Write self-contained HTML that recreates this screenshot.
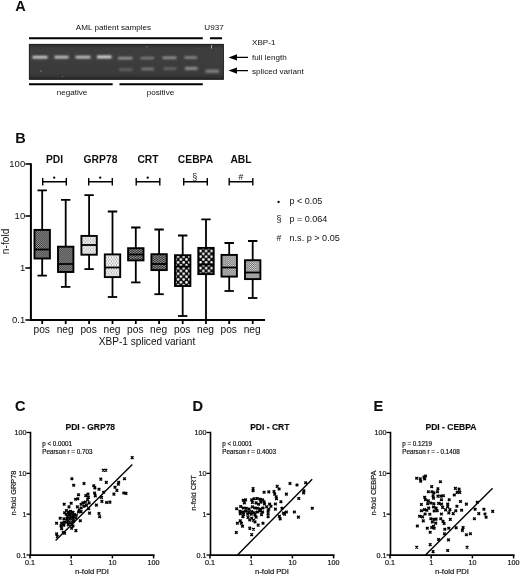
<!DOCTYPE html>
<html><head><meta charset="utf-8"><title>Figure</title>
<style>
html,body{margin:0;padding:0;background:#fff;}
body{width:520px;height:574px;overflow:hidden;font-family:"Liberation Sans",sans-serif;}
svg{display:block;font-family:"Liberation Sans",sans-serif;fill:#111;}
</style></head><body>
<svg width="520" height="574" viewBox="0 0 520 574">
<defs>
<pattern id="pPDI" width="1.9" height="1.9" patternUnits="userSpaceOnUse"><rect width="1.9" height="1.9" fill="#1c1c1c"/><rect x="0.05" y="0.05" width="0.9" height="0.9" fill="#c4c4c4"/><rect x="1" y="1" width="0.9" height="0.9" fill="#c4c4c4"/></pattern>
<pattern id="pGRP" width="2.6" height="3.8" patternUnits="userSpaceOnUse"><rect width="2.6" height="3.8" fill="#fdfdfd"/><rect x="0.3" y="0.5" width="1" height="1" fill="#555"/><rect x="1.6" y="2.4" width="1" height="1" fill="#555"/></pattern>
<pattern id="pCRT" width="1.7" height="1.7" patternUnits="userSpaceOnUse" patternTransform="rotate(-35)"><rect width="1.7" height="1.7" fill="#a8a8a8"/><rect x="0" y="0" width="1.7" height="0.95" fill="#262626"/></pattern>
<pattern id="pCEB" width="5.6" height="5.7" patternUnits="userSpaceOnUse" x="0.3" y="1.7"><rect width="5.6" height="5.7" fill="#0a0a0a"/><circle cx="1.4" cy="1.4" r="1.3" fill="#fff"/><circle cx="4.2" cy="4.25" r="1.3" fill="#fff"/></pattern>
<pattern id="pABL" width="2.2" height="1.9" patternUnits="userSpaceOnUse"><rect width="2.2" height="1.9" fill="#ececec"/><rect x="0" y="0" width="1.2" height="0.85" fill="#4c4c4c"/><rect x="1.1" y="0.95" width="1.2" height="0.85" fill="#4c4c4c"/></pattern>
<filter id="gb" x="-10%" y="-50%" width="120%" height="200%"><feGaussianBlur stdDeviation="1.1 0.8"/></filter>
<filter id="soft2"><feGaussianBlur stdDeviation="0.22"/></filter>
<filter id="soft"><feGaussianBlur stdDeviation="0.35"/></filter>
<linearGradient id="gelg" x1="0" y1="0" x2="0" y2="1"><stop offset="0" stop-color="#2a2a2a"/><stop offset="0.12" stop-color="#3e3e3e"/><stop offset="0.85" stop-color="#3a3a3a"/><stop offset="1" stop-color="#262626"/></linearGradient>
</defs>
<rect width="520" height="574" fill="#fff"/>
<g filter="url(#soft)">
<!-- Panel A -->
<text x="15.2" y="10.6" font-size="14.5" font-weight="bold">A</text>
<text x="113.5" y="30.3" font-size="8.1" text-anchor="middle">AML patient samples</text>
<text x="214" y="30.3" font-size="8.1" text-anchor="middle">U937</text>
<path d="M29 38.2H202.8M210 38.2H222" stroke="#000" stroke-width="2"/>
<rect x="29" y="44" width="194.8" height="35.6" fill="url(#gelg)"/>
<rect x="29.3" y="44.3" width="194.2" height="35" fill="none" stroke="#1e1e1e" stroke-width="0.8"/>
<g filter="url(#gb)">
<rect x="32.5" y="55.9" width="15" height="2.6" fill="#d8d8d8"/>
<rect x="54.5" y="55.9" width="14" height="2.5" fill="#d0d0d0"/>
<rect x="75.5" y="55.9" width="15" height="2.5" fill="#d0d0d0"/>
<rect x="97" y="55.6" width="14.5" height="2.7" fill="#e6e6e6"/>
<rect x="118" y="57.1" width="14.5" height="2.2" fill="#a4a4a4"/>
<rect x="140.5" y="57.1" width="13.5" height="2" fill="#8c8c8c"/>
<rect x="162.5" y="56.7" width="14" height="2.2" fill="#a2a2a2"/>
<rect x="184.5" y="56.5" width="12.5" height="2.1" fill="#9c9c9c"/>
<rect x="119" y="68.4" width="13.5" height="2.4" fill="#686868"/>
<rect x="141.5" y="67.8" width="12.5" height="2.4" fill="#808080"/>
<rect x="163.5" y="67.6" width="13" height="2.2" fill="#707070"/>
<rect x="185" y="67.1" width="12.5" height="2.7" fill="#989898"/>
<rect x="205.5" y="69.6" width="13.5" height="3.2" fill="#828282"/>
</g>
<circle cx="41" cy="71" r="0.6" fill="#ccc"/><circle cx="62.5" cy="76.5" r="0.5" fill="#888"/><circle cx="146.8" cy="46.8" r="0.5" fill="#bbb"/><rect x="211" y="45" width="1" height="3.5" fill="#aaa"/>
<path d="M29 84.3H112.7M119.5 84.3H202.8" stroke="#000" stroke-width="2"/>
<text x="72" y="95.2" font-size="8.1" text-anchor="middle">negative</text>
<text x="160.5" y="95.2" font-size="8.1" text-anchor="middle">positive</text>
<text x="252" y="45.2" font-size="8.1">XBP-1</text>
<text x="252" y="59.7" font-size="8.1">full length</text>
<text x="252" y="73.7" font-size="8.1">spliced variant</text>
<path d="M248 57.4H236M248 70.6H236" stroke="#000" stroke-width="1.2"/>
<path d="M228.5 57.4l8.5 -3.1v6.2zM228.5 70.6l8.5 -3.1v6.2z" fill="#000"/>
<!-- Panel B -->
<text x="15.2" y="143" font-size="14.5" font-weight="bold">B</text>
<path d="M30.9 163.2V320H265" stroke="#000" stroke-width="2" fill="none"/>
<path d="M25.4 164H30.9" stroke="#000" stroke-width="1.6"/>
<text x="25.2" y="167.4" font-size="9.5" text-anchor="end">100</text>
<path d="M25.4 216H30.9" stroke="#000" stroke-width="1.6"/>
<text x="25.2" y="219.4" font-size="9.5" text-anchor="end">10</text>
<path d="M25.4 268H30.9" stroke="#000" stroke-width="1.6"/>
<text x="25.2" y="271.4" font-size="9.5" text-anchor="end">1</text>
<path d="M25.4 320H30.9" stroke="#000" stroke-width="1.6"/>
<text x="25.2" y="323.4" font-size="9.5" text-anchor="end">0.1</text>
<text transform="translate(9.2 241.4) rotate(-90)" font-size="10.2" text-anchor="middle">n-fold</text>
<text x="54.5" y="163.3" font-size="10.3" font-weight="bold" text-anchor="middle">PDI</text>
<path d="M42.7 181.7h23.6M42.7 178v7.4M66.3 178v7.4" stroke="#000" stroke-width="1.4" fill="none"/>
<circle cx="54.2" cy="177.7" r="1.15" fill="#000"/>
<text x="100.5" y="163.3" font-size="10.3" font-weight="bold" text-anchor="middle">GRP78</text>
<path d="M88.7 181.7h23.6M88.7 178v7.4M112.3 178v7.4" stroke="#000" stroke-width="1.4" fill="none"/>
<circle cx="100.2" cy="177.7" r="1.15" fill="#000"/>
<text x="148" y="163.3" font-size="10.3" font-weight="bold" text-anchor="middle">CRT</text>
<path d="M136.2 181.7h23.6M136.2 178v7.4M159.8 178v7.4" stroke="#000" stroke-width="1.4" fill="none"/>
<circle cx="147.7" cy="177.7" r="1.15" fill="#000"/>
<text x="195.5" y="163.3" font-size="10.3" font-weight="bold" text-anchor="middle">CEBPA</text>
<path d="M183.7 181.7h23.6M183.7 178v7.4M207.3 178v7.4" stroke="#000" stroke-width="1.4" fill="none"/>
<text x="194.8" y="179.6" font-size="9" text-anchor="middle">§</text>
<text x="241" y="163.3" font-size="10.3" font-weight="bold" text-anchor="middle">ABL</text>
<path d="M229.2 181.7h23.6M229.2 178v7.4M252.8 178v7.4" stroke="#000" stroke-width="1.4" fill="none"/>
<text x="241" y="179.6" font-size="8.6" text-anchor="middle">#</text>
</g><g filter="url(#soft2)">
<path d="M42.2 190.4V275.6M37.5 190.4h9.4" stroke="#000" stroke-width="1.8" fill="none"/>
<path d="M37.5 275.6h9.4" stroke="#000" stroke-width="1.8"/>
<rect x="34.5" y="229.9" width="15.4" height="28.6" fill="url(#pPDI)" stroke="#000" stroke-width="1.9"/>
<path d="M34.5 249.5h15.4" stroke="#000" stroke-width="1.8"/>
<path d="M42.2 320V324" stroke="#000" stroke-width="1.8"/>
<text x="41.7" y="332.6" font-size="10.2" text-anchor="middle">pos</text>
<path d="M65.7 199.8V286.9M61.0 199.8h9.4" stroke="#000" stroke-width="1.8" fill="none"/>
<path d="M61.0 286.9h9.4" stroke="#000" stroke-width="1.8"/>
<rect x="58.0" y="246.7" width="15.4" height="25.3" fill="url(#pPDI)" stroke="#000" stroke-width="1.9"/>
<path d="M58.0 264h15.4" stroke="#000" stroke-width="1.8"/>
<path d="M65.7 320V324" stroke="#000" stroke-width="1.8"/>
<text x="65.2" y="332.6" font-size="10.2" text-anchor="middle">neg</text>
<path d="M89.1 195.2V269.1M84.4 195.2h9.4" stroke="#000" stroke-width="1.8" fill="none"/>
<path d="M84.4 269.1h9.4" stroke="#000" stroke-width="1.8"/>
<rect x="81.4" y="235.9" width="15.4" height="18.8" fill="url(#pGRP)" stroke="#000" stroke-width="1.9"/>
<path d="M81.4 245h15.4" stroke="#000" stroke-width="1.8"/>
<path d="M89.1 320V324" stroke="#000" stroke-width="1.8"/>
<text x="88.6" y="332.6" font-size="10.2" text-anchor="middle">pos</text>
<path d="M112.5 211.5V297M107.8 211.5h9.4" stroke="#000" stroke-width="1.8" fill="none"/>
<path d="M107.8 297h9.4" stroke="#000" stroke-width="1.8"/>
<rect x="104.8" y="254.4" width="15.4" height="22.7" fill="url(#pGRP)" stroke="#000" stroke-width="1.9"/>
<path d="M104.8 267.5h15.4" stroke="#000" stroke-width="1.8"/>
<path d="M112.5 320V324" stroke="#000" stroke-width="1.8"/>
<text x="112.0" y="332.6" font-size="10.2" text-anchor="middle">neg</text>
<path d="M135.8 227.5V282.4M131.1 227.5h9.4" stroke="#000" stroke-width="1.8" fill="none"/>
<path d="M131.1 282.4h9.4" stroke="#000" stroke-width="1.8"/>
<rect x="128.1" y="248.2" width="15.4" height="12.2" fill="url(#pCRT)" stroke="#000" stroke-width="1.9"/>
<path d="M128.1 254.5h15.4" stroke="#000" stroke-width="1.8"/>
<path d="M135.8 320V324" stroke="#000" stroke-width="1.8"/>
<text x="135.3" y="332.6" font-size="10.2" text-anchor="middle">pos</text>
<path d="M159.1 229.5V294.2M154.4 229.5h9.4" stroke="#000" stroke-width="1.8" fill="none"/>
<path d="M154.4 294.2h9.4" stroke="#000" stroke-width="1.8"/>
<rect x="151.4" y="254.2" width="15.4" height="15.9" fill="url(#pCRT)" stroke="#000" stroke-width="1.9"/>
<path d="M151.4 264h15.4" stroke="#000" stroke-width="1.8"/>
<path d="M159.1 320V324" stroke="#000" stroke-width="1.8"/>
<text x="158.6" y="332.6" font-size="10.2" text-anchor="middle">neg</text>
<path d="M182.7 235.5V316M178.0 235.5h9.4" stroke="#000" stroke-width="1.8" fill="none"/>
<path d="M178.0 316h9.4" stroke="#000" stroke-width="1.8"/>
<rect x="175.0" y="255.2" width="15.4" height="30.8" fill="url(#pCEB)" stroke="#000" stroke-width="1.9"/>
<path d="M175.0 266.6h15.4" stroke="#000" stroke-width="1.8"/>
<path d="M182.7 320V324" stroke="#000" stroke-width="1.8"/>
<text x="182.2" y="332.6" font-size="10.2" text-anchor="middle">pos</text>
<path d="M206 219.3V320M201.3 219.3h9.4" stroke="#000" stroke-width="1.8" fill="none"/>
<rect x="198.3" y="247.9" width="15.4" height="26.2" fill="url(#pCEB)" stroke="#000" stroke-width="1.9"/>
<path d="M198.3 264.5h15.4" stroke="#000" stroke-width="1.8"/>
<path d="M206 320V324" stroke="#000" stroke-width="1.8"/>
<text x="205.5" y="332.6" font-size="10.2" text-anchor="middle">neg</text>
<path d="M229.2 243V291M224.5 243h9.4" stroke="#000" stroke-width="1.8" fill="none"/>
<path d="M224.5 291h9.4" stroke="#000" stroke-width="1.8"/>
<rect x="221.5" y="254.9" width="15.4" height="21.7" fill="url(#pABL)" stroke="#000" stroke-width="1.9"/>
<path d="M221.5 267.5h15.4" stroke="#000" stroke-width="1.8"/>
<path d="M229.2 320V324" stroke="#000" stroke-width="1.8"/>
<text x="228.7" y="332.6" font-size="10.2" text-anchor="middle">pos</text>
<path d="M252.7 241V298M248.0 241h9.4" stroke="#000" stroke-width="1.8" fill="none"/>
<path d="M248.0 298h9.4" stroke="#000" stroke-width="1.8"/>
<rect x="245.0" y="260.2" width="15.4" height="18.9" fill="url(#pABL)" stroke="#000" stroke-width="1.9"/>
<path d="M245.0 272.5h15.4" stroke="#000" stroke-width="1.8"/>
<path d="M252.7 320V324" stroke="#000" stroke-width="1.8"/>
<text x="252.2" y="332.6" font-size="10.2" text-anchor="middle">neg</text>
</g><g filter="url(#soft)">
<text x="147" y="345.3" font-size="10.1" text-anchor="middle">XBP-1 spliced variant</text>
<circle cx="278.6" cy="202" r="1.15" fill="#000"/>
<text x="279" y="222.3" font-size="9" text-anchor="middle">§</text>
<text x="279" y="241.2" font-size="8.6" text-anchor="middle">#</text>
<text x="289.5" y="204" font-size="9">p &lt; 0.05</text>
<text x="289.5" y="221.6" font-size="9">p = 0.064</text>
<text x="289.5" y="240.6" font-size="9.1">n.s. p &gt; 0.05</text>
<!-- Panels C D E -->
<g stroke="#111" stroke-width="0.18">
<text x="15" y="411.2" font-size="14.5" font-weight="bold">C</text>
<text x="90.3" y="430" font-size="8.5" font-weight="bold" text-anchor="middle">PDI - GRP78</text>
<path d="M30.5 431.8V555.1H154.5" stroke="#000" stroke-width="1.6" fill="none"/>
<path d="M26.5 432.5H30" stroke="#000" stroke-width="1.3"/>
<text x="26.4" y="435.1" font-size="7.2" text-anchor="end">100</text>
<path d="M26.5 473.4H30" stroke="#000" stroke-width="1.3"/>
<text x="26.4" y="476.0" font-size="7.2" text-anchor="end">10</text>
<path d="M26.5 514.2H30" stroke="#000" stroke-width="1.3"/>
<text x="26.4" y="516.8" font-size="7.2" text-anchor="end">1</text>
<path d="M26.5 555.0H30" stroke="#000" stroke-width="1.3"/>
<text x="26.4" y="557.6" font-size="7.2" text-anchor="end">0.1</text>
<path d="M30.0 555V558.4" stroke="#000" stroke-width="1.5"/>
<text x="30.0" y="564.8" font-size="7.2" text-anchor="middle">0.1</text>
<path d="M71.2 555V558.4" stroke="#000" stroke-width="1.5"/>
<text x="71.2" y="564.8" font-size="7.2" text-anchor="middle">1</text>
<path d="M112.4 555V558.4" stroke="#000" stroke-width="1.5"/>
<text x="112.4" y="564.8" font-size="7.2" text-anchor="middle">10</text>
<path d="M153.6 555V558.4" stroke="#000" stroke-width="1.5"/>
<text x="153.6" y="564.8" font-size="7.2" text-anchor="middle">100</text>
<text x="92" y="573.8" font-size="7.6" text-anchor="middle">n-fold PDI</text>
<text transform="translate(16.4 493) rotate(-90)" font-size="7.4" text-anchor="middle">n-fold GRP78</text>
<text x="42.2" y="446.3" font-size="6.3">p &lt; 0.0001</text>
<text x="42.2" y="454" font-size="6.3">Pearson r = 0.703</text>
<path d="M55.6 540.6L132.3 464.6" stroke="#000" stroke-width="1.4"/>
<path d="M130.9 456.3l2.6 2.6M130.9 458.9l2.6 -2.6M102.0 469.0l2.6 2.6M102.0 471.6l2.6 -2.6M104.6 469.0l2.6 2.6M104.6 471.6l2.6 -2.6M70.6 477.4l2.6 2.6M70.6 480.0l2.6 -2.6M99.5 477.8l2.6 2.6M99.5 480.4l2.6 -2.6M123.2 477.4l2.6 2.6M123.2 480.0l2.6 -2.6M72.4 484.0l2.6 2.6M72.4 486.6l2.6 -2.6M82.7 482.2l2.6 2.6M82.7 484.8l2.6 -2.6M105.0 481.1l2.6 2.6M105.0 483.7l2.6 -2.6M117.4 481.1l2.6 2.6M117.4 483.7l2.6 -2.6M117.0 482.9l2.6 2.6M117.0 485.5l2.6 -2.6M92.5 484.4l2.6 2.6M92.5 487.0l2.6 -2.6M93.6 486.6l2.6 2.6M93.6 489.2l2.6 -2.6M113.7 485.9l2.6 2.6M113.7 488.5l2.6 -2.6M97.7 488.0l2.6 2.6M97.7 490.6l2.6 -2.6M115.6 489.1l2.6 2.6M115.6 491.7l2.6 -2.6M102.4 491.0l2.6 2.6M102.4 493.6l2.6 -2.6M112.6 492.8l2.6 2.6M112.6 495.4l2.6 -2.6M122.5 491.7l2.6 2.6M122.5 494.3l2.6 -2.6M124.7 492.1l2.6 2.6M124.7 494.7l2.6 -2.6M93.3 491.7l2.6 2.6M93.3 494.3l2.6 -2.6M86.7 492.8l2.6 2.6M86.7 495.4l2.6 -2.6M77.2 493.5l2.6 2.6M77.2 496.1l2.6 -2.6M84.5 494.3l2.6 2.6M84.5 496.9l2.6 -2.6M94.0 494.6l2.6 2.6M94.0 497.2l2.6 -2.6M87.1 496.1l2.6 2.6M87.1 498.7l2.6 -2.6M100.2 496.1l2.6 2.6M100.2 498.7l2.6 -2.6M74.3 497.9l2.6 2.6M74.3 500.5l2.6 -2.6M76.5 497.5l2.6 2.6M76.5 500.1l2.6 -2.6M86.3 498.3l2.6 2.6M86.3 500.9l2.6 -2.6M62.9 503.0l2.6 2.6M62.9 505.6l2.6 -2.6M69.9 501.9l2.6 2.6M69.9 504.5l2.6 -2.6M67.7 505.6l2.6 2.6M67.7 508.2l2.6 -2.6M81.6 501.6l2.6 2.6M81.6 504.2l2.6 -2.6M84.1 500.8l2.6 2.6M84.1 503.4l2.6 -2.6M87.8 501.6l2.6 2.6M87.8 504.2l2.6 -2.6M100.6 500.1l2.6 2.6M100.6 502.7l2.6 -2.6M105.3 501.2l2.6 2.6M105.3 503.8l2.6 -2.6M108.6 500.8l2.6 2.6M108.6 503.4l2.6 -2.6M95.1 503.8l2.6 2.6M95.1 506.4l2.6 -2.6M79.8 503.0l2.6 2.6M79.8 505.6l2.6 -2.6M76.1 505.6l2.6 2.6M76.1 508.2l2.6 -2.6M82.7 504.9l2.6 2.6M82.7 507.5l2.6 -2.6M85.2 504.1l2.6 2.6M85.2 506.7l2.6 -2.6M79.8 506.7l2.6 2.6M79.8 509.3l2.6 -2.6M87.4 507.4l2.6 2.6M87.4 510.0l2.6 -2.6M77.9 508.5l2.6 2.6M77.9 511.1l2.6 -2.6M65.1 509.2l2.6 2.6M65.1 511.8l2.6 -2.6M63.3 511.4l2.6 2.6M63.3 514.0l2.6 -2.6M67.0 510.7l2.6 2.6M67.0 513.3l2.6 -2.6M69.2 510.0l2.6 2.6M69.2 512.6l2.6 -2.6M71.7 511.1l2.6 2.6M71.7 513.7l2.6 -2.6M64.8 512.9l2.6 2.6M64.8 515.5l2.6 -2.6M67.7 513.3l2.6 2.6M67.7 515.9l2.6 -2.6M70.3 512.5l2.6 2.6M70.3 515.1l2.6 -2.6M73.2 513.3l2.6 2.6M73.2 515.9l2.6 -2.6M77.2 510.7l2.6 2.6M77.2 513.3l2.6 -2.6M79.8 510.3l2.6 2.6M79.8 512.9l2.6 -2.6M66.2 515.1l2.6 2.6M66.2 517.7l2.6 -2.6M69.2 515.4l2.6 2.6M69.2 518.0l2.6 -2.6M72.1 514.7l2.6 2.6M72.1 517.3l2.6 -2.6M75.0 514.0l2.6 2.6M75.0 516.6l2.6 -2.6M88.2 511.8l2.6 2.6M88.2 514.4l2.6 -2.6M97.7 512.2l2.6 2.6M97.7 514.8l2.6 -2.6M98.4 515.4l2.6 2.6M98.4 518.0l2.6 -2.6M58.9 516.9l2.6 2.6M58.9 519.5l2.6 -2.6M62.6 517.6l2.6 2.6M62.6 520.2l2.6 -2.6M65.5 517.6l2.6 2.6M65.5 520.2l2.6 -2.6M68.4 518.0l2.6 2.6M68.4 520.6l2.6 -2.6M71.4 517.3l2.6 2.6M71.4 519.9l2.6 -2.6M74.3 516.9l2.6 2.6M74.3 519.5l2.6 -2.6M55.3 522.0l2.6 2.6M55.3 524.6l2.6 -2.6M60.4 521.7l2.6 2.6M60.4 524.3l2.6 -2.6M63.3 520.9l2.6 2.6M63.3 523.5l2.6 -2.6M66.2 520.6l2.6 2.6M66.2 523.2l2.6 -2.6M69.2 521.3l2.6 2.6M69.2 523.9l2.6 -2.6M72.1 520.2l2.6 2.6M72.1 522.8l2.6 -2.6M79.0 519.5l2.6 2.6M79.0 522.1l2.6 -2.6M59.7 524.6l2.6 2.6M59.7 527.2l2.6 -2.6M62.6 523.8l2.6 2.6M62.6 526.4l2.6 -2.6M67.0 523.5l2.6 2.6M67.0 526.1l2.6 -2.6M70.3 523.1l2.6 2.6M70.3 525.7l2.6 -2.6M71.7 524.6l2.6 2.6M71.7 527.2l2.6 -2.6M60.4 527.5l2.6 2.6M60.4 530.1l2.6 -2.6M70.3 526.8l2.6 2.6M70.3 529.4l2.6 -2.6M74.6 529.3l2.6 2.6M74.6 531.9l2.6 -2.6M55.3 532.6l2.6 2.6M55.3 535.2l2.6 -2.6M61.9 531.2l2.6 2.6M61.9 533.8l2.6 -2.6M56.0 535.2l2.6 2.6M56.0 537.8l2.6 -2.6M63.3 531.9l2.6 2.6M63.3 534.5l2.6 -2.6" stroke="#000" stroke-width="1.45" fill="none"/>
</g>
<g stroke="#111" stroke-width="0.18">
<text x="192.6" y="411.2" font-size="14.5" font-weight="bold">D</text>
<text x="269.8" y="430" font-size="8.5" font-weight="bold" text-anchor="middle">PDI - CRT</text>
<path d="M210.5 431.8V555.1H334.5" stroke="#000" stroke-width="1.6" fill="none"/>
<path d="M206.5 432.5H210" stroke="#000" stroke-width="1.3"/>
<text x="206.4" y="435.1" font-size="7.2" text-anchor="end">100</text>
<path d="M206.5 473.4H210" stroke="#000" stroke-width="1.3"/>
<text x="206.4" y="476.0" font-size="7.2" text-anchor="end">10</text>
<path d="M206.5 514.2H210" stroke="#000" stroke-width="1.3"/>
<text x="206.4" y="516.8" font-size="7.2" text-anchor="end">1</text>
<path d="M206.5 555.0H210" stroke="#000" stroke-width="1.3"/>
<text x="206.4" y="557.6" font-size="7.2" text-anchor="end">0.1</text>
<path d="M210.0 555V558.4" stroke="#000" stroke-width="1.5"/>
<text x="210.0" y="564.8" font-size="7.2" text-anchor="middle">0.1</text>
<path d="M251.2 555V558.4" stroke="#000" stroke-width="1.5"/>
<text x="251.2" y="564.8" font-size="7.2" text-anchor="middle">1</text>
<path d="M292.4 555V558.4" stroke="#000" stroke-width="1.5"/>
<text x="292.4" y="564.8" font-size="7.2" text-anchor="middle">10</text>
<path d="M333.6 555V558.4" stroke="#000" stroke-width="1.5"/>
<text x="333.6" y="564.8" font-size="7.2" text-anchor="middle">100</text>
<text x="272" y="573.8" font-size="7.6" text-anchor="middle">n-fold PDI</text>
<text transform="translate(196.4 493) rotate(-90)" font-size="7.4" text-anchor="middle">n-fold CRT</text>
<text x="222.2" y="446.3" font-size="6.3">p &lt; 0.0001</text>
<text x="222.2" y="454" font-size="6.3">Pearson r = 0.4003</text>
<path d="M237.5 555L312.2 479.2" stroke="#000" stroke-width="1.4"/>
<path d="M288.7 482.2l2.6 2.6M288.7 484.8l2.6 -2.6M295.7 483.7l2.6 2.6M295.7 486.3l2.6 -2.6M304.4 481.5l2.6 2.6M304.4 484.1l2.6 -2.6M275.9 485.1l2.6 2.6M275.9 487.7l2.6 -2.6M277.8 487.7l2.6 2.6M277.8 490.3l2.6 -2.6M251.8 487.3l2.6 2.6M251.8 489.9l2.6 -2.6M251.8 489.5l2.6 2.6M251.8 492.1l2.6 -2.6M262.8 491.0l2.6 2.6M262.8 493.6l2.6 -2.6M267.5 490.6l2.6 2.6M267.5 493.2l2.6 -2.6M272.7 490.2l2.6 2.6M272.7 492.8l2.6 -2.6M273.4 492.8l2.6 2.6M273.4 495.4l2.6 -2.6M285.1 492.8l2.6 2.6M285.1 495.4l2.6 -2.6M302.6 489.5l2.6 2.6M302.6 492.1l2.6 -2.6M302.3 491.7l2.6 2.6M302.3 494.3l2.6 -2.6M274.9 495.4l2.6 2.6M274.9 498.0l2.6 -2.6M275.2 497.5l2.6 2.6M275.2 500.1l2.6 -2.6M297.5 497.2l2.6 2.6M297.5 499.8l2.6 -2.6M242.0 499.0l2.6 2.6M242.0 501.6l2.6 -2.6M244.2 498.6l2.6 2.6M244.2 501.2l2.6 -2.6M243.1 501.6l2.6 2.6M243.1 504.2l2.6 -2.6M250.4 498.6l2.6 2.6M250.4 501.2l2.6 -2.6M252.9 497.5l2.6 2.6M252.9 500.1l2.6 -2.6M255.9 497.2l2.6 2.6M255.9 499.8l2.6 -2.6M258.8 497.9l2.6 2.6M258.8 500.5l2.6 -2.6M261.3 498.6l2.6 2.6M261.3 501.2l2.6 -2.6M262.8 500.5l2.6 2.6M262.8 503.1l2.6 -2.6M251.1 501.2l2.6 2.6M251.1 503.8l2.6 -2.6M259.5 500.8l2.6 2.6M259.5 503.4l2.6 -2.6M279.6 500.5l2.6 2.6M279.6 503.1l2.6 -2.6M254.8 501.6l2.6 2.6M254.8 504.2l2.6 -2.6M257.3 503.0l2.6 2.6M257.3 505.6l2.6 -2.6M263.2 502.7l2.6 2.6M263.2 505.3l2.6 -2.6M268.3 502.7l2.6 2.6M268.3 505.3l2.6 -2.6M274.1 502.7l2.6 2.6M274.1 505.3l2.6 -2.6M239.4 505.2l2.6 2.6M239.4 507.8l2.6 -2.6M235.4 507.4l2.6 2.6M235.4 510.0l2.6 -2.6M242.0 506.7l2.6 2.6M242.0 509.3l2.6 -2.6M244.9 507.0l2.6 2.6M244.9 509.6l2.6 -2.6M247.8 507.8l2.6 2.6M247.8 510.4l2.6 -2.6M251.1 505.6l2.6 2.6M251.1 508.2l2.6 -2.6M253.7 506.7l2.6 2.6M253.7 509.3l2.6 -2.6M256.2 507.0l2.6 2.6M256.2 509.6l2.6 -2.6M259.1 507.8l2.6 2.6M259.1 510.4l2.6 -2.6M261.7 506.7l2.6 2.6M261.7 509.3l2.6 -2.6M265.4 505.6l2.6 2.6M265.4 508.2l2.6 -2.6M269.7 504.9l2.6 2.6M269.7 507.5l2.6 -2.6M267.5 507.8l2.6 2.6M267.5 510.4l2.6 -2.6M274.1 507.8l2.6 2.6M274.1 510.4l2.6 -2.6M280.7 507.0l2.6 2.6M280.7 509.6l2.6 -2.6M311.0 507.0l2.6 2.6M311.0 509.6l2.6 -2.6M238.7 510.0l2.6 2.6M238.7 512.6l2.6 -2.6M241.6 510.7l2.6 2.6M241.6 513.3l2.6 -2.6M244.5 510.0l2.6 2.6M244.5 512.6l2.6 -2.6M247.4 511.1l2.6 2.6M247.4 513.7l2.6 -2.6M250.4 510.3l2.6 2.6M250.4 512.9l2.6 -2.6M252.9 511.4l2.6 2.6M252.9 514.0l2.6 -2.6M255.9 510.7l2.6 2.6M255.9 513.3l2.6 -2.6M258.4 509.6l2.6 2.6M258.4 512.2l2.6 -2.6M261.3 510.7l2.6 2.6M261.3 513.3l2.6 -2.6M266.8 509.6l2.6 2.6M266.8 512.2l2.6 -2.6M239.0 512.5l2.6 2.6M239.0 515.1l2.6 -2.6M242.3 513.3l2.6 2.6M242.3 515.9l2.6 -2.6M246.4 512.9l2.6 2.6M246.4 515.5l2.6 -2.6M250.0 512.9l2.6 2.6M250.0 515.5l2.6 -2.6M253.7 513.6l2.6 2.6M253.7 516.2l2.6 -2.6M260.2 513.3l2.6 2.6M260.2 515.9l2.6 -2.6M266.8 512.5l2.6 2.6M266.8 515.1l2.6 -2.6M282.2 511.8l2.6 2.6M282.2 514.4l2.6 -2.6M285.1 510.7l2.6 2.6M285.1 513.3l2.6 -2.6M293.1 510.7l2.6 2.6M293.1 513.3l2.6 -2.6M241.6 515.4l2.6 2.6M241.6 518.0l2.6 -2.6M246.7 516.2l2.6 2.6M246.7 518.8l2.6 -2.6M250.4 516.9l2.6 2.6M250.4 519.5l2.6 -2.6M254.8 515.8l2.6 2.6M254.8 518.4l2.6 -2.6M266.8 515.4l2.6 2.6M266.8 518.0l2.6 -2.6M278.1 515.1l2.6 2.6M278.1 517.7l2.6 -2.6M278.9 517.6l2.6 2.6M278.9 520.2l2.6 -2.6M297.1 515.8l2.6 2.6M297.1 518.4l2.6 -2.6M283.3 512.9l2.6 2.6M283.3 515.5l2.6 -2.6M239.0 519.5l2.6 2.6M239.0 522.1l2.6 -2.6M248.5 518.7l2.6 2.6M248.5 521.3l2.6 -2.6M252.2 519.1l2.6 2.6M252.2 521.7l2.6 -2.6M253.7 520.6l2.6 2.6M253.7 523.2l2.6 -2.6M236.1 522.0l2.6 2.6M236.1 524.6l2.6 -2.6M240.1 522.0l2.6 2.6M240.1 524.6l2.6 -2.6M241.2 524.9l2.6 2.6M241.2 527.5l2.6 -2.6M256.9 523.8l2.6 2.6M256.9 526.4l2.6 -2.6M261.7 522.0l2.6 2.6M261.7 524.6l2.6 -2.6M248.5 526.8l2.6 2.6M248.5 529.4l2.6 -2.6M252.2 527.9l2.6 2.6M252.2 530.5l2.6 -2.6M235.0 531.2l2.6 2.6M235.0 533.8l2.6 -2.6M250.4 533.3l2.6 2.6M250.4 535.9l2.6 -2.6" stroke="#000" stroke-width="1.45" fill="none"/>
</g>
<g stroke="#111" stroke-width="0.18">
<text x="373.6" y="411.2" font-size="14.5" font-weight="bold">E</text>
<text x="451" y="430" font-size="8.5" font-weight="bold" text-anchor="middle">PDI - CEBPA</text>
<path d="M390.5 431.8V555.1H514.5" stroke="#000" stroke-width="1.6" fill="none"/>
<path d="M386.5 432.5H390" stroke="#000" stroke-width="1.3"/>
<text x="386.4" y="435.1" font-size="7.2" text-anchor="end">100</text>
<path d="M386.5 473.4H390" stroke="#000" stroke-width="1.3"/>
<text x="386.4" y="476.0" font-size="7.2" text-anchor="end">10</text>
<path d="M386.5 514.2H390" stroke="#000" stroke-width="1.3"/>
<text x="386.4" y="516.8" font-size="7.2" text-anchor="end">1</text>
<path d="M386.5 555.0H390" stroke="#000" stroke-width="1.3"/>
<text x="386.4" y="557.6" font-size="7.2" text-anchor="end">0.1</text>
<path d="M390.0 555V558.4" stroke="#000" stroke-width="1.5"/>
<text x="390.0" y="564.8" font-size="7.2" text-anchor="middle">0.1</text>
<path d="M431.2 555V558.4" stroke="#000" stroke-width="1.5"/>
<text x="431.2" y="564.8" font-size="7.2" text-anchor="middle">1</text>
<path d="M472.4 555V558.4" stroke="#000" stroke-width="1.5"/>
<text x="472.4" y="564.8" font-size="7.2" text-anchor="middle">10</text>
<path d="M513.6 555V558.4" stroke="#000" stroke-width="1.5"/>
<text x="513.6" y="564.8" font-size="7.2" text-anchor="middle">100</text>
<text x="452" y="573.8" font-size="7.6" text-anchor="middle">n-fold PDI</text>
<text transform="translate(376.4 493) rotate(-90)" font-size="7.4" text-anchor="middle">n-fold CEBPA</text>
<text x="402.2" y="446.3" font-size="6.3">p = 0.1219</text>
<text x="402.2" y="454" font-size="6.3">Pearson r = - 0.1408</text>
<path d="M425.5 555L492.6 488.3" stroke="#000" stroke-width="1.4"/>
<path d="M415.4 476.9l2.6 2.6M415.4 479.5l2.6 -2.6M419.0 477.6l2.6 2.6M419.0 480.2l2.6 -2.6M419.4 479.8l2.6 2.6M419.4 482.4l2.6 -2.6M422.7 475.8l2.6 2.6M422.7 478.4l2.6 -2.6M424.2 474.7l2.6 2.6M424.2 477.3l2.6 -2.6M423.4 477.6l2.6 2.6M423.4 480.2l2.6 -2.6M439.1 480.5l2.6 2.6M439.1 483.1l2.6 -2.6M430.4 485.3l2.6 2.6M430.4 487.9l2.6 -2.6M436.6 487.4l2.6 2.6M436.6 490.0l2.6 -2.6M454.1 487.1l2.6 2.6M454.1 489.7l2.6 -2.6M457.8 487.8l2.6 2.6M457.8 490.4l2.6 -2.6M427.1 490.4l2.6 2.6M427.1 493.0l2.6 -2.6M430.7 490.4l2.6 2.6M430.7 493.0l2.6 -2.6M432.6 491.5l2.6 2.6M432.6 494.1l2.6 -2.6M436.2 490.4l2.6 2.6M436.2 493.0l2.6 -2.6M455.9 491.1l2.6 2.6M455.9 493.7l2.6 -2.6M458.5 491.1l2.6 2.6M458.5 493.7l2.6 -2.6M453.0 493.7l2.6 2.6M453.0 496.3l2.6 -2.6M423.4 495.9l2.6 2.6M423.4 498.5l2.6 -2.6M431.8 494.4l2.6 2.6M431.8 497.0l2.6 -2.6M432.2 496.9l2.6 2.6M432.2 499.5l2.6 -2.6M436.6 494.8l2.6 2.6M436.6 497.4l2.6 -2.6M439.5 494.8l2.6 2.6M439.5 497.4l2.6 -2.6M442.1 494.4l2.6 2.6M442.1 497.0l2.6 -2.6M424.2 498.4l2.6 2.6M424.2 501.0l2.6 -2.6M427.1 499.5l2.6 2.6M427.1 502.1l2.6 -2.6M440.2 498.4l2.6 2.6M440.2 501.0l2.6 -2.6M447.9 498.4l2.6 2.6M447.9 501.0l2.6 -2.6M459.2 500.2l2.6 2.6M459.2 502.8l2.6 -2.6M420.1 503.2l2.6 2.6M420.1 505.8l2.6 -2.6M426.4 502.4l2.6 2.6M426.4 505.0l2.6 -2.6M429.6 501.7l2.6 2.6M429.6 504.3l2.6 -2.6M432.6 502.4l2.6 2.6M432.6 505.0l2.6 -2.6M437.3 502.1l2.6 2.6M437.3 504.7l2.6 -2.6M440.2 502.8l2.6 2.6M440.2 505.4l2.6 -2.6M446.4 502.8l2.6 2.6M446.4 505.4l2.6 -2.6M465.1 502.8l2.6 2.6M465.1 505.4l2.6 -2.6M476.0 501.0l2.6 2.6M476.0 503.6l2.6 -2.6M427.4 506.8l2.6 2.6M427.4 509.4l2.6 -2.6M432.2 505.7l2.6 2.6M432.2 508.3l2.6 -2.6M434.8 506.8l2.6 2.6M434.8 509.4l2.6 -2.6M441.3 506.1l2.6 2.6M441.3 508.7l2.6 -2.6M446.4 505.4l2.6 2.6M446.4 508.0l2.6 -2.6M455.6 505.0l2.6 2.6M455.6 507.6l2.6 -2.6M420.1 509.4l2.6 2.6M420.1 512.0l2.6 -2.6M423.1 508.3l2.6 2.6M423.1 510.9l2.6 -2.6M425.6 509.0l2.6 2.6M425.6 511.6l2.6 -2.6M432.9 509.7l2.6 2.6M432.9 512.3l2.6 -2.6M435.9 509.4l2.6 2.6M435.9 512.0l2.6 -2.6M444.3 508.6l2.6 2.6M444.3 511.2l2.6 -2.6M448.6 508.3l2.6 2.6M448.6 510.9l2.6 -2.6M454.5 509.4l2.6 2.6M454.5 512.0l2.6 -2.6M460.3 509.0l2.6 2.6M460.3 511.6l2.6 -2.6M473.8 507.9l2.6 2.6M473.8 510.5l2.6 -2.6M482.6 507.9l2.6 2.6M482.6 510.5l2.6 -2.6M491.4 510.1l2.6 2.6M491.4 512.7l2.6 -2.6M447.5 511.6l2.6 2.6M447.5 514.2l2.6 -2.6M451.9 512.3l2.6 2.6M451.9 514.9l2.6 -2.6M423.8 512.7l2.6 2.6M423.8 515.3l2.6 -2.6M428.5 513.0l2.6 2.6M428.5 515.6l2.6 -2.6M440.2 512.7l2.6 2.6M440.2 515.3l2.6 -2.6M418.3 514.9l2.6 2.6M418.3 517.5l2.6 -2.6M421.2 515.6l2.6 2.6M421.2 518.2l2.6 -2.6M477.5 512.3l2.6 2.6M477.5 514.9l2.6 -2.6M483.7 512.7l2.6 2.6M483.7 515.3l2.6 -2.6M484.8 515.9l2.6 2.6M484.8 518.5l2.6 -2.6M473.1 517.4l2.6 2.6M473.1 520.0l2.6 -2.6M429.6 517.4l2.6 2.6M429.6 520.0l2.6 -2.6M432.6 518.1l2.6 2.6M432.6 520.7l2.6 -2.6M434.8 517.8l2.6 2.6M434.8 520.4l2.6 -2.6M439.5 517.4l2.6 2.6M439.5 520.0l2.6 -2.6M449.0 518.1l2.6 2.6M449.0 520.7l2.6 -2.6M422.0 519.6l2.6 2.6M422.0 522.2l2.6 -2.6M431.1 520.7l2.6 2.6M431.1 523.3l2.6 -2.6M434.4 521.8l2.6 2.6M434.4 524.4l2.6 -2.6M441.7 520.0l2.6 2.6M441.7 522.6l2.6 -2.6M442.8 522.2l2.6 2.6M442.8 524.8l2.6 -2.6M416.1 524.7l2.6 2.6M416.1 527.3l2.6 -2.6M432.2 525.1l2.6 2.6M432.2 527.7l2.6 -2.6M426.0 526.9l2.6 2.6M426.0 529.5l2.6 -2.6M430.4 526.2l2.6 2.6M430.4 528.8l2.6 -2.6M432.9 526.9l2.6 2.6M432.9 529.5l2.6 -2.6M443.5 528.0l2.6 2.6M443.5 530.6l2.6 -2.6M447.5 526.9l2.6 2.6M447.5 529.5l2.6 -2.6M454.9 526.5l2.6 2.6M454.9 529.1l2.6 -2.6M461.8 526.2l2.6 2.6M461.8 528.8l2.6 -2.6M461.1 529.1l2.6 2.6M461.1 531.7l2.6 -2.6M428.9 530.9l2.6 2.6M428.9 533.5l2.6 -2.6M443.2 532.4l2.6 2.6M443.2 535.0l2.6 -2.6M465.1 533.5l2.6 2.6M465.1 536.1l2.6 -2.6M469.1 532.4l2.6 2.6M469.1 535.0l2.6 -2.6M437.3 538.2l2.6 2.6M437.3 540.8l2.6 -2.6M447.2 538.6l2.6 2.6M447.2 541.2l2.6 -2.6M415.4 545.9l2.6 2.6M415.4 548.5l2.6 -2.6M428.9 543.3l2.6 2.6M428.9 545.9l2.6 -2.6M465.8 545.9l2.6 2.6M465.8 548.5l2.6 -2.6M431.8 550.3l2.6 2.6M431.8 552.9l2.6 -2.6M446.4 549.2l2.6 2.6M446.4 551.8l2.6 -2.6" stroke="#000" stroke-width="1.45" fill="none"/>
</g>
</g>
</svg>
</body></html>
